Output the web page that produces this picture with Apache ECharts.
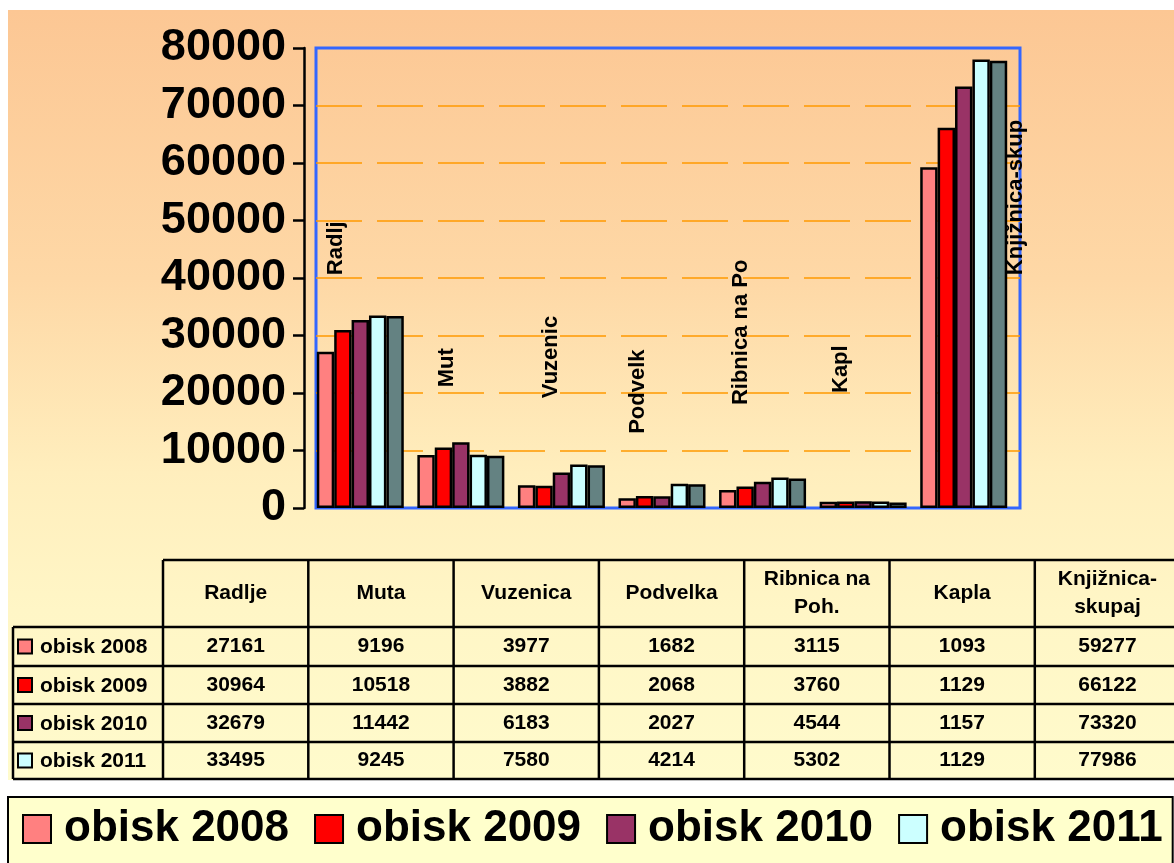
<!DOCTYPE html>
<html>
<head>
<meta charset="utf-8">
<script src="https://cdn.jsdelivr.net/npm/echarts@6/dist/echarts.min.js"></script>
<style>
html, body { margin: 0; padding: 0; background: #fff; }
#chart { width: 1174px; height: 863px; }
</style>
</head>
<body>
<div id="chart"></div>
<script>
// data
const categories = ['Radlje', 'Muta', 'Vuzenica', 'Podvelka', 'Ribnica na Poh.', 'Kapla', 'Knjižnica-skupaj'];
const tableHeaders = ['Radlje', 'Muta', 'Vuzenica', 'Podvelka', 'Ribnica na\nPoh.', 'Kapla', 'Knjižnica-\nskupaj'];
const seriesNames = ['obisk 2008', 'obisk 2009', 'obisk 2010', 'obisk 2011'];
const obisk2008 = [27161, 9196, 3977, 1682, 3115, 1093, 59277];
const obisk2009 = [30964, 10518, 3882, 2068, 3760, 1129, 66122];
const obisk2010 = [32679, 11442, 6183, 2027, 4544, 1157, 73320];
const obisk2011 = [33495, 9245, 7580, 4214, 5302, 1129, 77986];
const extraBars = [33400, 9100, 7450, 4150, 5150, 950, 77800];
const plotLabels = ['Radlj', 'Mut', 'Vuzenic', 'Podvelk', 'Ribnica na Po', 'Kapl', 'Knjižnica-skup'];
const plotLabelAnchors = [40500, 21000, 19100, 12900, 17900, 20000, 40500];
const yMin = 0, yMax = 80000, yStep = 10000;

// styles
const FONT = '"Liberation Sans", Arial, sans-serif';
const colors = ['#ff8080', '#ff0000', '#993366', '#ccffff'];
const extraColor = '#648282';
const plotLabelShift = [-24, -14, -10, -24, -22, -22, 52];

const chart = echarts.init(document.getElementById('chart'));

// table below the plot, built from the arrays
const rows = [obisk2008, obisk2009, obisk2010, obisk2011];
const colX0 = 163, colW = 145.3, rowYs = [560, 627, 666, 704, 742, 779], tableLeft = 13, tableRight = 1182;
const els = [];
els.push({ type: 'rect', z: -100, shape: { x: 8, y: 10, width: 1170, height: 770 },
  style: { fill: new echarts.graphic.LinearGradient(0, 0, 0, 1, [
    { offset: 0, color: '#fcc794' },
    { offset: 0.35, color: '#fed8a6' },
    { offset: 0.6, color: '#ffeebd' },
    { offset: 0.78, color: '#fff6c6' },
    { offset: 1, color: '#fffbcc' }]) } });
const line = (x1, y1, x2, y2) => els.push({ type: 'line', z: 100, shape: { x1, y1, x2, y2 }, style: { stroke: '#000', lineWidth: 2.5 } });
line(colX0, rowYs[0], tableRight, rowYs[0]);
for (let r = 1; r < rowYs.length; r++) line(tableLeft, rowYs[r], tableRight, rowYs[r]);
line(tableLeft, rowYs[1], tableLeft, rowYs[5]);
for (let c = 0; c <= categories.length; c++) line(colX0 + c * colW, rowYs[0], colX0 + c * colW, rowYs[5]);
const cellText = (text, x, y, align) => els.push({ type: 'text', z: 100, x, y,
  style: { text, fill: '#000', font: 'bold 21px ' + FONT, align: align || 'center', verticalAlign: 'middle', lineHeight: 28 } });
tableHeaders.forEach((h, c) => cellText(h, colX0 + (c + 0.5) * colW, (rowYs[0] + rowYs[1]) / 2));
rows.forEach((vals, r) => {
  const cy = (rowYs[r + 1] + rowYs[r + 2]) / 2;
  els.push({ type: 'rect', z: 100, shape: { x: 18, y: cy - 7, width: 14, height: 14 },
    style: { fill: colors[r], stroke: '#000', lineWidth: 2 } });
  cellText(seriesNames[r], 40, cy + 1, 'left');
  vals.forEach((v, c) => cellText(String(v), colX0 + (c + 0.5) * colW, cy));
});

const barSeries = [obisk2008, obisk2009, obisk2010, obisk2011].map((d, i) => ({
  name: seriesNames[i], type: 'bar', xAxisIndex: 1, yAxisIndex: 1, data: d,
  barWidth: 17.4, barGap: '0%',
  itemStyle: { color: colors[i], borderColor: '#000', borderWidth: 2.5 }
}));
barSeries.push({
  name: 'extra', type: 'bar', xAxisIndex: 1, yAxisIndex: 1, data: extraBars,
  barWidth: 17.4, barGap: '0%',
  itemStyle: { color: extraColor, borderColor: '#000', borderWidth: 2.5 }
});

chart.setOption({
  animation: false,
  graphic: { elements: els },
  legend: {
    data: seriesNames, left: 8, top: 797, orient: 'horizontal',
    padding: [10, 10, 30, 14], itemGap: 25, itemWidth: 28, itemHeight: 28, icon: 'rect',
    backgroundColor: '#ffffcc', borderColor: '#000', borderWidth: 2,
    selectedMode: false,
    textStyle: { fontSize: 44, fontWeight: 'bold', fontFamily: FONT, color: '#000', padding: [0, 0, 0, 8] }
  },
  grid: [
    { left: 316, right: 154, top: 48, bottom: 355, show: true, borderColor: '#3366ff', borderWidth: 3, backgroundColor: 'transparent' },
    { left: 310, right: 160, top: 48, bottom: 355 }
  ],
  xAxis: [
    { type: 'category', gridIndex: 0, data: categories, show: false },
    { type: 'category', gridIndex: 1, data: categories, show: false }
  ],
  yAxis: [
    {
      type: 'value', gridIndex: 0, min: yMin, max: yMax, interval: yStep, offset: 12,
      axisLine: { show: true, lineStyle: { color: '#000', width: 2.5 } },
      axisTick: { show: true, length: 11, lineStyle: { color: '#000', width: 2.5 } },
      axisLabel: { fontSize: 45, fontWeight: 'bold', fontFamily: FONT, color: '#000', margin: 18, formatter: v => String(v) },
      splitLine: { show: true, showMinLine: false, showMaxLine: false, lineStyle: { color: '#ff9900', width: 1.5, type: [46, 15] } }
    },
    { type: 'value', gridIndex: 1, min: yMin, max: yMax, show: false, splitLine: { show: false } }
  ],
  series: barSeries
});

// rotated category captions inside the plot, placed through the axis scales
const captions = plotLabels.map((t, i) => {
  const p = chart.convertToPixel({ xAxisIndex: 1, yAxisIndex: 1 }, [i, plotLabelAnchors[i]]);
  return { type: 'text', z: 50, x: p[0] + plotLabelShift[i], y: p[1], rotation: Math.PI / 2,
    style: { text: t, fill: '#000', font: 'bold 22px ' + FONT, align: 'left', verticalAlign: 'middle' } };
});
chart.setOption({ graphic: { elements: els.concat(captions) } });
</script>
</body>
</html>
